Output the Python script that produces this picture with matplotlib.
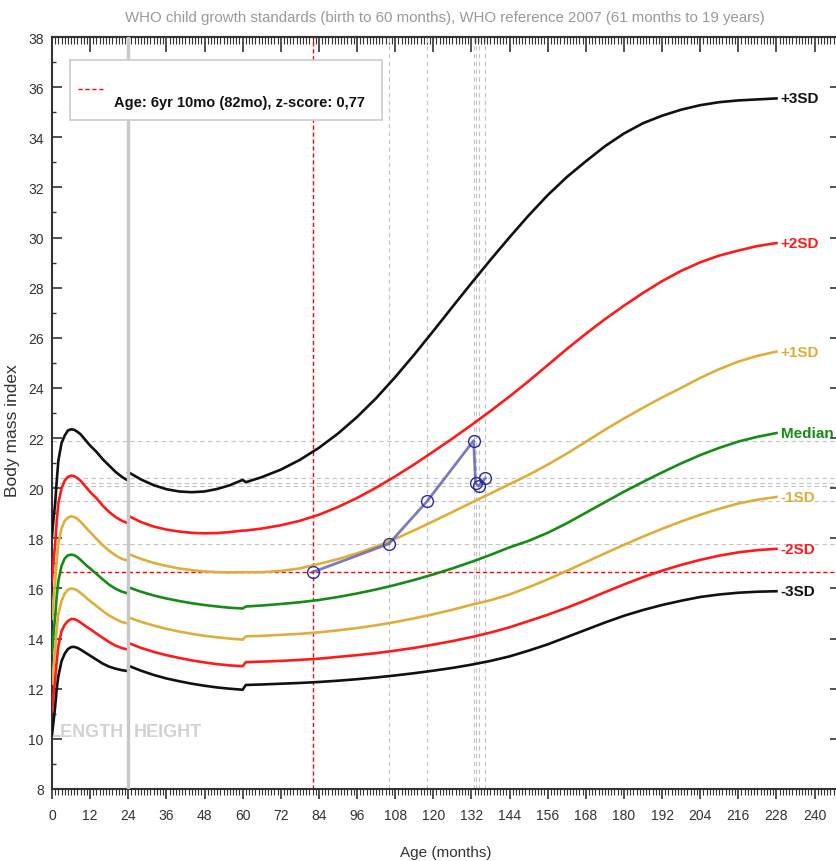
import numpy as np
import matplotlib
matplotlib.use('Agg')
import matplotlib.pyplot as plt
from matplotlib.ticker import MultipleLocator
from matplotlib.patches import Rectangle
from matplotlib.lines import Line2D

plt.rcParams['font.family'] = ['Liberation Sans', 'DejaVu Sans']

# ages (months): WHO standard by length (0-24), by height (24-60), WHO reference 2007 (61-228)
age_len = [0, 0.5, 1, 1.5, 2, 3, 4, 5, 6, 7, 8, 9, 10, 11, 12, 14, 16, 18, 20, 22, 24]
age_hgt = [24, 28, 32, 36, 40, 44, 48, 52, 56, 60]
age_ref = [61, 66, 72, 78, 84, 90, 96, 102, 108, 114, 120, 126, 132, 138, 144, 150,
           156, 162, 168, 174, 180, 186, 192, 198, 204, 210, 216, 222, 228]

# BMI-for-age curves (boys); each list = length part, height part, 2007 part
sd_p3 = [18.1, 18.8, 19.4, 20.3, 21.1, 21.8, 22.1, 22.3, 22.35, 22.33, 22.25, 22.15, 22.0, 21.85, 21.7, 21.45, 21.15, 20.9, 20.65, 20.45, 20.3,
         20.64, 20.35, 20.12, 19.96, 19.87, 19.84, 19.87, 19.97, 20.12, 20.33,
         20.24, 20.44, 20.74, 21.13, 21.61, 22.18, 22.84, 23.59, 24.43, 25.33, 26.27, 27.23, 28.18, 29.11, 30.01, 30.88,
         31.69, 32.41, 33.04, 33.64, 34.15, 34.56, 34.86, 35.1, 35.28, 35.4, 35.47, 35.51, 35.55]
sd_p2 = [16.3, 17.1, 17.8, 18.7, 19.4, 20.0, 20.3, 20.45, 20.5, 20.48, 20.4, 20.3, 20.15, 20.0, 19.85, 19.6, 19.3, 19.05, 18.85, 18.7, 18.6,
         18.9, 18.65, 18.47, 18.35, 18.27, 18.22, 18.2, 18.21, 18.25, 18.31,
         18.31, 18.39, 18.52, 18.7, 18.94, 19.25, 19.61, 20.02, 20.47, 20.95, 21.46, 21.98, 22.52, 23.08, 23.66, 24.27,
         24.91, 25.55, 26.16, 26.74, 27.28, 27.79, 28.26, 28.67, 29.01, 29.28, 29.48, 29.66, 29.78]
sd_p1 = [14.8, 15.6, 16.3, 17.1, 17.8, 18.4, 18.7, 18.82, 18.88, 18.85, 18.78, 18.66, 18.52, 18.38, 18.25, 17.98, 17.72, 17.5, 17.32, 17.18, 17.1,
         17.38, 17.18, 17.02, 16.9, 16.8, 16.73, 16.68, 16.65, 16.64, 16.65,
         16.65, 16.65, 16.7, 16.8, 16.98, 17.17, 17.4, 17.67, 17.98, 18.32, 18.68, 19.05, 19.42, 19.79, 20.16, 20.53,
         20.94, 21.38, 21.85, 22.33, 22.78, 23.21, 23.62, 24.0, 24.4, 24.75, 25.05, 25.28, 25.45]
median = [13.4, 14.2, 14.9, 15.7, 16.3, 16.9, 17.2, 17.32, 17.35, 17.33, 17.25, 17.14, 17.02, 16.9, 16.8, 16.58, 16.36, 16.15, 15.99, 15.87, 15.8,
          16.05, 15.87, 15.72, 15.6, 15.5, 15.41, 15.34, 15.28, 15.23, 15.2,
          15.28, 15.32, 15.38, 15.45, 15.54, 15.66, 15.8, 15.96, 16.14, 16.34, 16.56, 16.8, 17.06, 17.34, 17.64, 17.9,
          18.22, 18.6, 19.02, 19.44, 19.86, 20.25, 20.63, 20.99, 21.32, 21.61, 21.86, 22.05, 22.2]
sd_m1 = [12.2, 12.9, 13.6, 14.4, 15.0, 15.5, 15.8, 15.95, 16.0, 15.98, 15.92, 15.82, 15.72, 15.6, 15.5, 15.3, 15.1, 14.92, 14.78, 14.66, 14.6,
         14.85, 14.67, 14.52, 14.39, 14.28, 14.19, 14.11, 14.05, 14.0, 13.96,
         14.09, 14.11, 14.15, 14.19, 14.25, 14.33, 14.42, 14.53, 14.66, 14.81, 14.97, 15.15, 15.35, 15.53, 15.76, 16.05,
         16.36, 16.7, 17.05, 17.4, 17.74, 18.07, 18.38, 18.67, 18.94, 19.18, 19.39, 19.54, 19.65]
sd_m2 = [11.1, 11.8, 12.4, 13.1, 13.7, 14.3, 14.55, 14.7, 14.78, 14.78, 14.72, 14.64, 14.55, 14.46, 14.38, 14.2, 14.03, 13.86, 13.72, 13.62, 13.56,
         13.83, 13.63, 13.47, 13.34, 13.23, 13.13, 13.05, 12.98, 12.93, 12.9,
         13.06, 13.08, 13.11, 13.15, 13.2, 13.27, 13.34, 13.42, 13.52, 13.63, 13.76, 13.9, 14.06, 14.24, 14.45, 14.7,
         14.95, 15.23, 15.53, 15.85, 16.16, 16.45, 16.71, 16.94, 17.14, 17.31, 17.44, 17.53, 17.58]
sd_m3 = [10.2, 10.7, 11.3, 12.0, 12.5, 13.1, 13.4, 13.58, 13.66, 13.67, 13.63, 13.56, 13.48, 13.4, 13.32, 13.16, 13.0, 12.88, 12.8, 12.74, 12.7,
         12.92, 12.72, 12.55, 12.41, 12.3, 12.2, 12.12, 12.05, 12.0, 11.96,
         12.15, 12.17, 12.2, 12.23, 12.27, 12.32, 12.38, 12.45, 12.53, 12.62, 12.72, 12.83, 12.96, 13.11, 13.29, 13.52,
         13.77, 14.06, 14.35, 14.64, 14.91, 15.14, 15.34, 15.51, 15.66, 15.76, 15.83, 15.87, 15.89]

curve_names = ['+3SD', '+2SD', '+1SD', 'Median', '-1SD', '-2SD', '-3SD']
curve_colors = ['#111111', '#ff1a1a', '#dfae3a', '#168c16', '#dfae3a', '#ff1a1a', '#111111']
curves = [sd_p3, sd_p2, sd_p1, median, sd_m1, sd_m2, sd_m3]

# child's measurements
visit_age = [82, 106, 118, 132.7, 133.3, 134.3, 136.4]
visit_bmi = [16.65, 17.78, 19.47, 21.9, 20.21, 20.08, 20.4]
legend_text = 'Age: 6yr 10mo (82mo), z-score: 0,77'

fig = plt.figure(figsize=(8.37, 8.62), dpi=100)
ax = fig.add_axes([52 / 837, 72 / 862, 788 / 837, 752 / 862])
ax.set_xlim(0, 248)
ax.set_ylim(8, 38)

n1 = len(age_len)
ages_rest = age_hgt + age_ref
for name, vals, col in zip(curve_names, curves, curve_colors):
    ax.plot(age_len, vals[:n1], color=col, lw=1.9, zorder=3)
    ax.plot(ages_rest, vals[n1:], color=col, lw=1.9, zorder=3)
    ax.text(age_ref[-1] + 1.3, vals[-1], name, color=col, fontsize=11, fontweight='bold',
            va='center', ha='left', zorder=4)

# reference lines for each visit
for a, b in zip(visit_age[1:], visit_bmi[1:]):
    ax.axvline(a, color='#c4c4c4', lw=0.8, ls=(0, (4, 3)), zorder=1)
    ax.axhline(b, color='#c4c4c4', lw=0.8, ls=(0, (4, 3)), zorder=1)
ax.axvline(visit_age[0], color='#ff0000', lw=1.0, ls=(0, (3, 2)), zorder=1)
ax.axhline(visit_bmi[0], color='#ff0000', lw=1.0, ls=(0, (3, 2)), zorder=1)

# length / height divider
ax.axvline(24, color='#c8c8c8', lw=2.4, zorder=3.5)
ax.text(22.8, 10.3, 'LENGTH', color='#d2d2d2', fontsize=13, fontweight='bold', ha='right', va='center', zorder=2)
ax.text(25.6, 10.3, 'HEIGHT', color='#d2d2d2', fontsize=13, fontweight='bold', ha='left', va='center', zorder=2)

ax.plot(visit_age, visit_bmi, color='#5a5ab0', alpha=0.8, lw=2, zorder=5)
ax.plot(visit_age, visit_bmi, ls='none', marker='o', ms=8.5, mfc='none', mec='#2a2a9a', mew=1, zorder=6)

# legend box
ax.add_patch(Rectangle((0.0228, 0.8896), 0.396, 0.0798, transform=ax.transAxes,
                       facecolor='white', edgecolor='#cccccc', lw=1.2, zorder=7))
ax.add_line(Line2D([0.033, 0.0647], [0.9309, 0.9309], transform=ax.transAxes,
                   color='#ff0000', lw=1.0, ls=(0, (3, 2)), zorder=8))
ax.text(0.0787, 0.9136, legend_text, transform=ax.transAxes, fontsize=10.5, fontweight='bold',
        va='center', ha='left', color='#111111', zorder=8)

# axes styling
for s in ax.spines.values():
    s.set_color('#333333')
    s.set_linewidth(1.5)

ax.xaxis.set_major_locator(MultipleLocator(12))
ax.xaxis.set_minor_locator(MultipleLocator(1))
ax.yaxis.set_major_locator(MultipleLocator(2))
ax.yaxis.set_minor_locator(MultipleLocator(1))
ax.tick_params(axis='x', which='both', direction='out', colors='#333333', top=False)
ax.tick_params(axis='x', which='major', length=7, width=1.2, labelsize=10, pad=7)
ax.tick_params(axis='x', which='minor', length=4, width=0.8)
ax.tick_params(axis='y', which='both', direction='in', colors='#333333')
ax.tick_params(axis='y', which='major', length=7, width=1.2, labelsize=10, pad=6, right=True)
ax.tick_params(axis='y', which='minor', length=3, width=1.0, right=False)

top = ax.secondary_xaxis('top')
top.xaxis.set_major_locator(MultipleLocator(12))
top.xaxis.set_minor_locator(MultipleLocator(1))
top.tick_params(axis='x', which='both', direction='in', colors='#333333', labeltop=False)
top.tick_params(axis='x', which='major', length=11, width=1.2)
top.tick_params(axis='x', which='minor', length=5, width=0.8)
top.spines['top'].set_color('#333333')
top.spines['top'].set_linewidth(1.5)

ax.set_xlabel('Age (months)', fontsize=11, color='#333333')
ax.xaxis.set_label_coords(0.5, -0.074)
ax.set_ylabel('Body mass index', fontsize=12.5, color='#333333')
ax.yaxis.set_label_coords(-0.041, 0.478)
fig.text(0.532, 0.979, 'WHO child growth standards (birth to 60 months), WHO reference 2007 (61 months to 19 years)',
         ha='center', va='center', fontsize=10.8, color='#999999')

fig.savefig('out.png', dpi=100)
